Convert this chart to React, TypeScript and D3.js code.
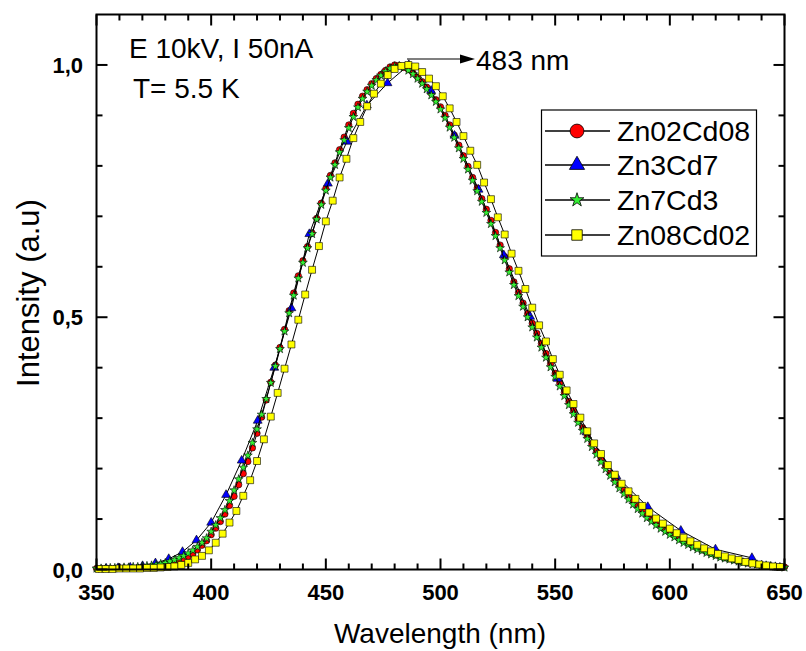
import React from "react";
import * as d3 from "d3";

// ---- data ----
const gridRG = [350,352,354,356,358,360,362,364,366,368,370,372,374,376,378,380,382,384,386,388,390,392,394,396,398,400,402,404,406,408,410,412,414,416,418,420,422,424,426,428,430,432,434,436,438,440,442,444,446,448,450,452,454,456,458,460,462,464,466,468,470,472,474,476,478,480,482,484,486,488,490,492,494,496,498,500,502,504,506,508,510,512,514,516,518,520,522,524,526,528,530,532,534,536,538,540,542,544,546,548,550,552,554,556,558,560,562,564,566,568,570,572,574,576,578,580,582,584,586,588,590,592,594,596,598,600,602,604,606,608,610,612,614,616,618,620,622,624,626,628,630,632,634,636,638,640,642,644,646,648,650];

const zn02cd08 = [0.002,0.002,0.002,0.002,0.002,0.003,0.003,0.003,0.003,0.004,0.004,0.005,0.006,0.007,0.008,0.010,0.012,0.015,0.018,0.021,0.026,0.031,0.039,0.048,0.057,0.069,0.082,0.095,0.110,0.127,0.145,0.168,0.190,0.214,0.241,0.270,0.302,0.336,0.371,0.405,0.440,0.476,0.513,0.548,0.582,0.612,0.640,0.667,0.696,0.726,0.755,0.781,0.806,0.832,0.857,0.881,0.904,0.922,0.938,0.951,0.963,0.973,0.981,0.989,0.996,1.0,0.999,0.995,0.991,0.984,0.976,0.967,0.956,0.944,0.931,0.917,0.900,0.881,0.861,0.841,0.820,0.799,0.777,0.756,0.735,0.714,0.692,0.668,0.643,0.620,0.596,0.570,0.549,0.528,0.507,0.488,0.468,0.448,0.428,0.408,0.389,0.370,0.351,0.333,0.315,0.298,0.281,0.265,0.249,0.234,0.219,0.205,0.191,0.178,0.167,0.157,0.146,0.136,0.126,0.117,0.108,0.100,0.093,0.086,0.080,0.074,0.068,0.062,0.057,0.052,0.047,0.043,0.039,0.035,0.032,0.029,0.026,0.023,0.021,0.019,0.017,0.015,0.013,0.012,0.010,0.009,0.008,0.007,0.006,0.005,0.005];

const zn7cd3 = [0.002,0.002,0.002,0.003,0.003,0.003,0.004,0.004,0.005,0.005,0.006,0.007,0.008,0.009,0.011,0.013,0.016,0.019,0.023,0.027,0.032,0.038,0.045,0.053,0.062,0.075,0.088,0.102,0.118,0.136,0.157,0.179,0.202,0.226,0.251,0.278,0.307,0.338,0.370,0.403,0.437,0.472,0.508,0.543,0.577,0.608,0.637,0.665,0.694,0.723,0.751,0.777,0.802,0.827,0.851,0.875,0.897,0.916,0.933,0.947,0.959,0.970,0.979,0.987,0.993,0.997,0.998,0.995,0.989,0.982,0.973,0.963,0.952,0.940,0.927,0.912,0.895,0.876,0.856,0.835,0.814,0.793,0.771,0.750,0.729,0.707,0.685,0.661,0.637,0.613,0.589,0.564,0.542,0.521,0.500,0.480,0.460,0.440,0.420,0.401,0.382,0.363,0.344,0.326,0.308,0.291,0.275,0.259,0.243,0.228,0.213,0.199,0.186,0.173,0.161,0.150,0.139,0.129,0.120,0.111,0.102,0.095,0.088,0.081,0.075,0.069,0.064,0.058,0.053,0.049,0.044,0.040,0.037,0.033,0.030,0.027,0.024,0.022,0.020,0.018,0.016,0.014,0.012,0.011,0.010,0.009,0.008,0.007,0.006,0.005,0.004];

const gridBlue = [354.2,359.4,364.7,370.1,375.7,381.5,387.5,393.6,400.0,406.5,413.3,420.3,427.5,435.0,442.8,450.9,459.2,467.9,476.9,486.2,495.9,506.1,516.6,527.6,539.1,551.0,563.6,576.7,590.4,604.8,619.9,635.8];
const zn3cd7 = [0.002,0.003,0.004,0.007,0.0125,0.021,0.035,0.058,0.093,0.148,0.216,0.295,0.400,0.518,0.665,0.765,0.848,0.920,0.964,1.0,0.949,0.860,0.753,0.623,0.501,0.378,0.272,0.185,0.124,0.077,0.040,0.023];

const gridYellow = [351,354,357,360,363,366,369,372,375,378,381,384,387,390,393,396,399,402,405,408,411,414,417,420,423,426,429,432,435,438,441,444,447,450,453,456,459,462,465,468,471,474,477,480,483,486,489,492,495,498,501,504,507,510,513,516,519,522,525,528,531,534,537,540,543,546,549,552,555,558,561,564,567,570,573,576,579,582,585,588,591,594,597,600,603,606,609,612,615,618,621,624,627,630,633,636,639,642,645,648];
const zn08cd02 = [0.001,0.001,0.001,0.002,0.002,0.002,0.002,0.003,0.003,0.004,0.005,0.006,0.009,0.013,0.020,0.027,0.038,0.053,0.071,0.093,0.116,0.146,0.177,0.215,0.258,0.303,0.350,0.398,0.446,0.495,0.545,0.594,0.641,0.690,0.731,0.777,0.814,0.855,0.887,0.918,0.943,0.963,0.980,0.992,0.998,1.0,0.997,0.986,0.973,0.958,0.938,0.914,0.887,0.859,0.830,0.802,0.767,0.734,0.698,0.664,0.626,0.592,0.556,0.519,0.484,0.452,0.417,0.386,0.355,0.328,0.301,0.274,0.250,0.229,0.207,0.188,0.170,0.155,0.140,0.126,0.113,0.101,0.091,0.081,0.072,0.063,0.056,0.049,0.042,0.036,0.031,0.026,0.022,0.019,0.015,0.012,0.010,0.008,0.006,0.005];

const seriesNames = ["Zn02Cd08", "Zn3Cd7", "Zn7Cd3", "Zn08Cd02"];
const xMajorTicks = [350, 400, 450, 500, 550, 600, 650];
const xMinorTicks = [360,370,380,390,410,420,430,440,460,470,480,490,510,520,530,540,560,570,580,590,610,620,630,640];
const yMajorTicks = [0, 0.5, 1.0];
const yMajorLabels = ["0,0", "0,5", "1,0"];
const yMinorTicks = [0.1, 0.2, 0.3, 0.4, 0.6, 0.7, 0.8, 0.9];
const peakLabel = "483 nm";
const noteLines = ["E 10kV, I 50nA", "T= 5.5 K"];

const FONT = "'Liberation Sans', Arial, Helvetica, sans-serif";

export default function App() {
  const W = 806, H = 651;
  const L = 96.5, R = 784.5, T = 14.5, B = 569.5;
  const x = d3.scaleLinear().domain([350, 650]).range([L, R]);
  const y = d3.scaleLinear().domain([0, 1.1]).range([B, T]);

  const mk = (xs: number[], ys: number[]) => xs.map((v, i) => [v, ys[i]] as [number, number]);
  const series = [
    { name: seriesNames[0], data: mk(gridRG, zn02cd08), fill: "#ff0000", sym: d3.symbolCircle, size: 32, lsize: 150 },
    { name: seriesNames[1], data: mk(gridBlue, zn3cd7), fill: "#0000ff", sym: d3.symbolTriangle, size: 34, lsize: 100 },
    { name: seriesNames[2], data: mk(gridRG, zn7cd3), fill: "#33f033", sym: d3.symbolStar, size: 24, lsize: 60 },
    { name: seriesNames[3], data: mk(gridYellow, zn08cd02), fill: "#ffff00", sym: d3.symbolSquare, size: 48, lsize: 110 },
  ];
  const line = d3.line<[number, number]>().x(d => x(d[0])).y(d => y(d[1]));

  const legX = 541.5, legY = 110, legW = 215, legH = 146;
  const rowY = [131, 165, 200, 235];

  return (
    <svg width={W} height={H} style={{ position: "absolute", left: 0, top: 0, background: "#fff" }} fontFamily={FONT}>
      <rect x={0} y={0} width={W} height={H} fill="#fff" />
      {/* data */}
      {series.map((s, si) => (
        <g key={si}>
          <path d={line(s.data) || ""} fill="none" stroke="#000" strokeWidth={1} />
          {s.data.map((d, i) => (
            <path key={i} d={d3.symbol(s.sym, s.size)() || ""} transform={`translate(${x(d[0])},${y(d[1])})`}
              fill={s.fill} stroke="#000" strokeWidth={0.6} />
          ))}
        </g>
      ))}
      {/* frame */}
      <rect x={L} y={T} width={R - L} height={B - T} fill="none" stroke="#000" strokeWidth={2} />
      {/* x ticks */}
      {xMajorTicks.map(t => (
        <g key={"xm" + t}>
          <line x1={x(t)} x2={x(t)} y1={B} y2={B - 11} stroke="#000" strokeWidth={2} />
          <line x1={x(t)} x2={x(t)} y1={T} y2={T + 11} stroke="#000" strokeWidth={2} />
          <text x={x(t)} y={600} textAnchor="middle" fontSize={22} fontWeight="bold">{t}</text>
        </g>
      ))}
      {xMinorTicks.map(t => (
        <g key={"xn" + t}>
          <line x1={x(t)} x2={x(t)} y1={B} y2={B - 6} stroke="#000" strokeWidth={2} />
          <line x1={x(t)} x2={x(t)} y1={T} y2={T + 6} stroke="#000" strokeWidth={2} />
        </g>
      ))}
      {/* y ticks */}
      {yMajorTicks.map((t, i) => (
        <g key={"ym" + t}>
          <line x1={L} x2={L + 11} y1={y(t)} y2={y(t)} stroke="#000" strokeWidth={2} />
          <line x1={R} x2={R - 11} y1={y(t)} y2={y(t)} stroke="#000" strokeWidth={2} />
          <text x={83} y={y(t) + 8} textAnchor="end" fontSize={22} fontWeight="bold">{yMajorLabels[i]}</text>
        </g>
      ))}
      {yMinorTicks.map(t => (
        <g key={"yn" + t}>
          <line x1={L} x2={L + 6} y1={y(t)} y2={y(t)} stroke="#000" strokeWidth={2} />
          <line x1={R} x2={R - 6} y1={y(t)} y2={y(t)} stroke="#000" strokeWidth={2} />
        </g>
      ))}
      {/* axis titles */}
      <text x={440} y={643} textAnchor="middle" fontSize={28}>Wavelength (nm)</text>
      <text transform="translate(39,293) rotate(-90)" textAnchor="middle" fontSize={31}>Intensity (a.u)</text>
      {/* notes */}
      <text x={129} y={58} fontSize={28}>{noteLines[0]}</text>
      <text x={133} y={98} fontSize={28}>{noteLines[1]}</text>
      {/* peak annotation */}
      <line x1={407} y1={59} x2={462} y2={59} stroke="#000" strokeWidth={1.2} />
      <path d="M460,54.5 L475,59 L460,63.5 Z" fill="#000" />
      <text x={476} y={70} fontSize={28}>{peakLabel}</text>
      {/* legend */}
      <rect x={legX} y={legY} width={legW} height={legH} fill="#fff" stroke="#000" strokeWidth={1.2} />
      {series.map((s, i) => (
        <g key={"lg" + i}>
          <line x1={545} x2={610} y1={rowY[i]} y2={rowY[i]} stroke="#000" strokeWidth={1.5} />
          <path d={d3.symbol(s.sym, s.lsize)() || ""} transform={`translate(577,${rowY[i]})`} fill={s.fill} stroke="#000" strokeWidth={0.8} />
          <text x={617} y={rowY[i] + 10} fontSize={28.5}>{s.name}</text>
        </g>
      ))}
    </svg>
  );
}
